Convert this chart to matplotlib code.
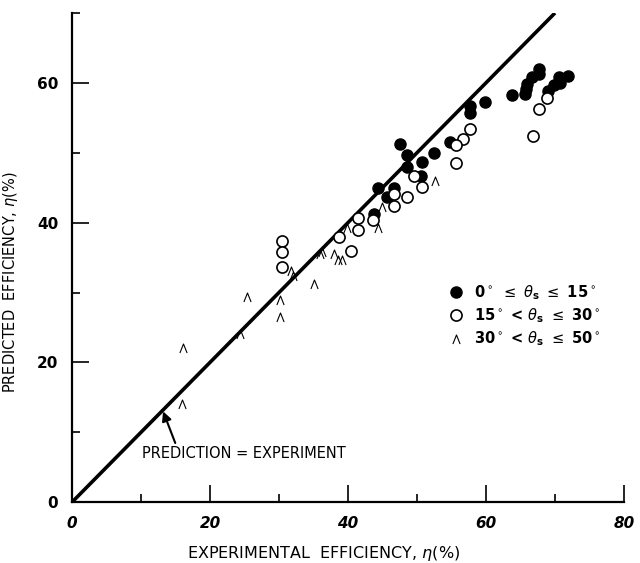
import matplotlib.pyplot as plt
import numpy as np
from matplotlib.path import Path

# 0 deg <= theta_s <= 15 deg (filled circles)
low_x = [63.7, 65.7, 65.8, 65.9, 66.6, 67.7, 67.7, 69.0, 69.8, 70.6, 71.9, 70.7,
         57.7, 57.7, 59.9, 54.8, 52.5, 47.5, 48.6, 50.7, 48.6, 50.6, 46.6, 44.4,
         45.6, 43.7]
low_y = [58.3, 58.4, 59.1, 59.8, 60.8, 62.0, 61.2, 58.8, 59.7, 60.8, 61.0, 60.0,
         56.7, 55.7, 57.3, 51.6, 50.0, 51.2, 49.7, 48.7, 48.0, 46.6, 45.0, 45.0,
         43.6, 41.2]

# 15 deg < theta_s <= 30 deg (open circles)
mid_x = [68.9, 67.7, 66.8, 57.7, 56.7, 55.7, 55.7, 49.5, 50.7, 48.6, 46.6, 46.6,
         43.6, 41.5, 41.5, 38.7, 40.4, 30.4, 30.4, 30.4]
mid_y = [57.8, 56.2, 52.4, 53.4, 52.0, 51.1, 48.5, 46.6, 45.1, 43.6, 42.4, 44.1,
         40.4, 40.7, 39.0, 37.9, 35.9, 37.4, 35.8, 33.7]

# 30 deg < theta_s <= 50 deg (open carets)
high_x = [52.6, 44.4, 44.9, 39.8, 37.9, 39.1, 35.9, 31.8, 25.3, 30.1, 30.1, 35.0,
          24.4, 16.1, 15.9, 36.2, 38.6, 32.1]
high_y = [46.0, 39.3, 42.2, 39.3, 35.5, 34.6, 35.5, 33.1, 29.3, 28.9, 26.5, 31.2,
          24.1, 22.0, 14.1, 35.8, 34.6, 32.4]

# line of perfect agreement
diag = [0, 70]

caret = Path([(-0.8, -1.0), (0.0, 1.0), (0.8, -1.0)],
             [Path.MOVETO, Path.LINETO, Path.LINETO])

fig = plt.figure(figsize=(6.4, 5.63), dpi=100)
ax = fig.add_axes([0.1125, 0.108, 0.8625, 0.869])

ax.plot(diag, diag, color='black', lw=2.6, solid_capstyle='butt', zorder=2)

ax.plot(low_x, low_y, 'o', ms=8, color='black', ls='none', zorder=3,
        label=r'0$^\circ$ $\leq$ $\theta_{\mathbf{s}}$ $\leq$ 15$^\circ$')
ax.plot(mid_x, mid_y, 'o', ms=8, mfc='white', mec='black', mew=1.2, ls='none',
        zorder=3,
        label=r'15$^\circ$ < $\theta_{\mathbf{s}}$ $\leq$ 30$^\circ$')
ax.plot(high_x, high_y, marker=caret, ms=6.5, mfc='none', mec='black', mew=0.8,
        ls='none', zorder=3,
        label=r'30$^\circ$ < $\theta_{\mathbf{s}}$ $\leq$ 50$^\circ$')

ax.annotate('PREDICTION = EXPERIMENT', xy=(13.2, 13.0), xytext=(10.1, 7.0),
            fontsize=10.5, va='center', ha='left',
            arrowprops=dict(arrowstyle='-|>', color='black', lw=1.5,
                            mutation_scale=14, shrinkA=0, shrinkB=0,
                            relpos=(0.17, 1.0)))

ax.set_xlim(0, 80)
ax.set_ylim(0, 70)
for s in ['top', 'right']:
    ax.spines[s].set_visible(False)
for s in ['left', 'bottom']:
    ax.spines[s].set_linewidth(1.6)

ax.set_xticks([0, 20, 40, 60, 80])
ax.set_xticks([10, 30, 50, 70], minor=True)
ax.set_yticks([0, 20, 40, 60])
ax.set_yticks([10, 30, 50, 70], minor=True)
ax.tick_params(which='major', direction='in', length=12, width=1.2, pad=10)
ax.tick_params(which='minor', direction='in', length=6, width=1.2)
for lab in ax.get_xticklabels():
    lab.set_fontstyle('italic')
    lab.set_fontweight('bold')
    lab.set_fontsize(11)
for lab in ax.get_yticklabels():
    lab.set_fontweight('bold')
    lab.set_fontsize(11)

ax.set_xlabel(r'EXPERIMENTAL  EFFICIENCY, $\eta$(%)', fontsize=11.5)
ax.xaxis.set_label_coords(0.455, -0.085)
ax.set_ylabel(r'PREDICTED  EFFICIENCY, $\eta$(%)', fontsize=10.5)
ax.yaxis.set_label_coords(-0.095, 0.45)

leg = ax.legend(loc='upper left', bbox_to_anchor=(0.67, 0.462), frameon=False,
                handlelength=1.0, handletextpad=0.7, labelspacing=0.3,
                borderpad=0, prop={'weight': 'bold', 'size': 10.5})

fig.savefig('out.png', dpi=100)
